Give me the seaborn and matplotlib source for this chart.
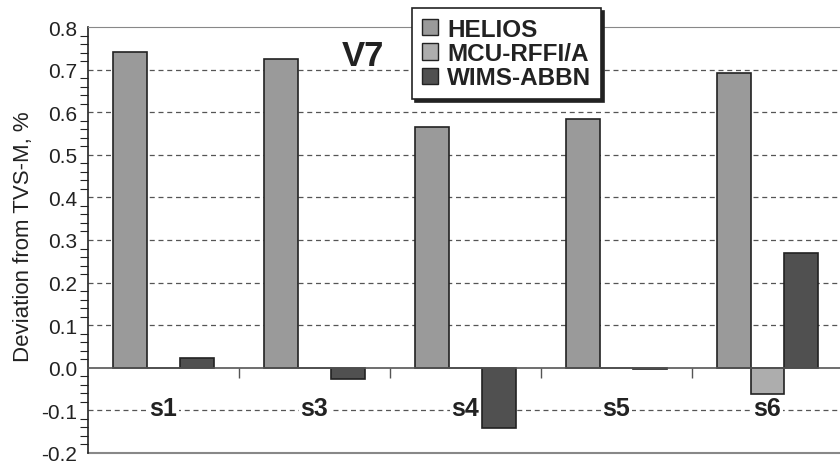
import matplotlib
matplotlib.use("Agg")
import matplotlib.pyplot as plt
import seaborn as sns
import pandas as pd
import numpy as np
from matplotlib.ticker import MultipleLocator, FormatStrFormatter

categories = ["s1", "s3", "s4", "s5", "s6"]
series = ["HELIOS", "MCU-RFFI/A", "WIMS-ABBN"]
helios = [0.742, 0.725, 0.565, 0.583, 0.691]
mcu = [0.0, 0.0, 0.0, 0.0, -0.062]
wims = [0.023, -0.027, -0.142, -0.003, 0.269]
colors = ["#9a9a9a", "#adadad", "#505050"]

df = pd.DataFrame({
    "cat": categories * 3,
    "series": [s for s in series for _ in categories],
    "value": helios + mcu + wims,
})

sns.set_style("white")
plt.rcParams["font.family"] = ["Liberation Sans", "DejaVu Sans"]

fig = plt.figure(figsize=(8.4, 4.64), dpi=100)
ax = fig.add_axes([88/840, 1-454/464, 755/840, (454-28)/464])

sns.barplot(data=df, x="cat", y="value", hue="series", palette=colors,
            width=0.67, edgecolor="#222222", linewidth=1.2, ax=ax,
            saturation=1, legend=True)

ax.set_xlim(-0.5, 4.5)
ax.set_ylim(-0.2, 0.8)
ax.yaxis.set_major_locator(MultipleLocator(0.1))
ax.yaxis.set_minor_locator(MultipleLocator(0.02))
ax.yaxis.set_major_formatter(FormatStrFormatter("%.1f"))
ax.tick_params(axis="y", which="major", direction="inout", length=12, width=1,
               labelsize=15, color="#222222", pad=2, labelcolor="#222222")
ax.tick_params(axis="y", which="minor", direction="out", length=6, width=0.8,
               color="#222222", left=True)
ax.set_ylabel("Deviation from TVS-M, %", fontsize=16, color="#222222")
ax.yaxis.set_label_coords(-0.071, 0.51)
ax.set_xlabel("")

for y in np.arange(-0.1, 0.75, 0.1):
    if abs(y) > 1e-9:
        ax.axhline(y, color="#555555", linestyle=(0, (4, 3)), linewidth=0.9, zorder=0)

# category axis at zero
ax.spines["bottom"].set_position(("data", 0))
ax.spines["bottom"].set_color("#555555")
ax.spines["bottom"].set_linewidth(1.2)
ax.spines["top"].set_color("#888888")
ax.spines["right"].set_visible(False)
ax.spines["left"].set_color("#222222")
ax.spines["left"].set_linewidth(1.2)
ax.axhline(-0.2, color="#888888", linewidth=1.5, zorder=1, clip_on=False)

ax.set_xticks(range(len(categories)))
ax.set_xticklabels(categories, fontsize=18, fontweight="bold", color="#222222")
ax.tick_params(axis="x", which="major", length=0, pad=20)
for t in ax.get_xticklabels():
    t.set_bbox(dict(facecolor="white", edgecolor="none", pad=1))
ax.set_xticks(np.arange(0.5, 4.5, 1.0), minor=True)
ax.tick_params(axis="x", which="minor", direction="out", length=7, width=1,
               color="#555555", bottom=True)

ax.text(0.364, 0.934, "V7", transform=ax.transAxes, fontsize=25,
        fontweight="bold", ha="center", va="center", color="#222222")

handles, labels = ax.get_legend_handles_labels()
ax.get_legend().remove()
leg = fig.legend(handles, labels, loc="upper left",
                 bbox_to_anchor=(412/840, 1-9/464), frameon=True,
                 fancybox=False, shadow={"color": "#222222", "alpha": 1},
                 prop={"size": 17.5, "weight": "bold"},
                 handlelength=0.65, handleheight=0.65, handletextpad=0.4,
                 labelspacing=0.05, borderpad=0.4, borderaxespad=0)
leg.get_frame().set_edgecolor("#222222")
leg.get_frame().set_linewidth(1.2)
for h in leg.legend_handles:
    h.set_edgecolor("#222222")
    h.set_linewidth(1)
for txt in leg.get_texts():
    txt.set_color("#222222")

fig.savefig("out.png", dpi=100)
